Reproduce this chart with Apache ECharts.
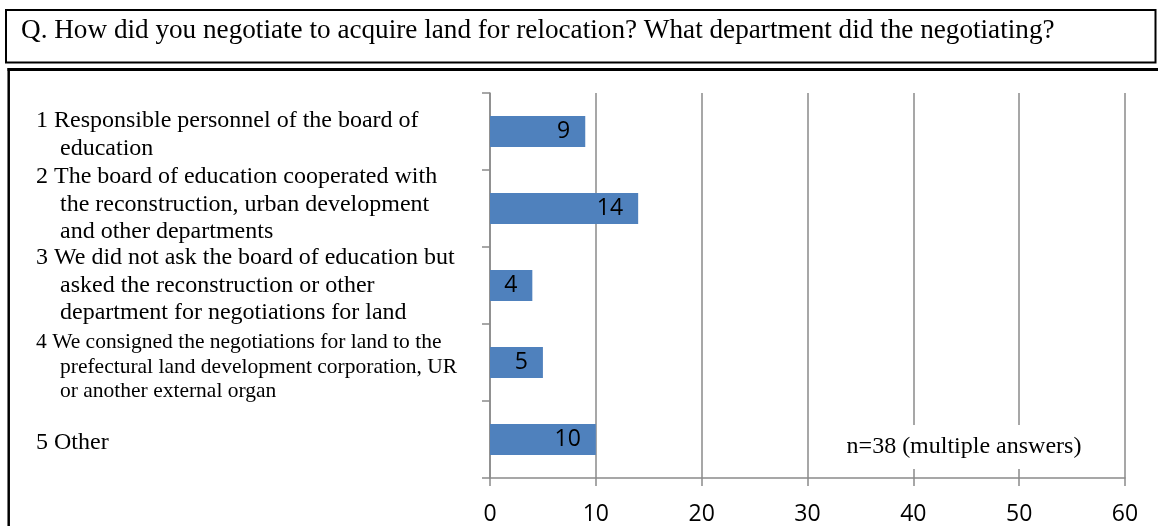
<!DOCTYPE html>
<html>
<head>
<meta charset="utf-8">
<script src="https://cdn.jsdelivr.net/npm/echarts@6/dist/echarts.min.js"></script>
<style>
html,body{margin:0;padding:0;background:#fff;}
#chart{width:1158px;height:526px;}
</style>
</head>
<body>
<div id="chart"></div>
<script>
const titleText = 'Q. How did you negotiate to acquire land for relocation? What department did the negotiating?';
const categoryLines = [
  ['1 Responsible personnel of the board of', 'education'],
  ['2 The board of education cooperated with', 'the reconstruction, urban development', 'and other departments'],
  ['3 We did not ask the board of education but', 'asked the reconstruction or other', 'department for negotiations for land'],
  ['4 We consigned the negotiations for land to the', 'prefectural land development corporation, UR', 'or another external organ'],
  ['5 Other']
];
const categories = categoryLines.map(l => l.join('\n'));
const values = [9, 14, 4, 5, 10];
const xMin = 0, xMax = 60, xInterval = 10;
const noteText = 'n=38 (multiple answers)';

const chart = echarts.init(document.getElementById('chart'), null, {renderer: 'canvas'});
const grey = '#8a8a8a';
const serif = '"Liberation Serif", "Times New Roman", serif';
const sans = '"Open Sans", "Liberation Sans", sans-serif';

// layout-only vertical nudges (px, positive = down) for each category label block
const labelNudge = [3, -4, 0, 4.5, 3];
const rich = {};
categoryLines.forEach((lines, idx) => {
  const small = idx === 3;
  const fs = small ? 21.5 : 24;
  const lh = small ? 24.5 : 27.5;
  const d = labelNudge[idx];
  const pt = d > 0 ? 2 * d : 0, pb = d < 0 ? -2 * d : 0;
  rich['f' + idx] = {fontFamily: serif, fontSize: fs, lineHeight: lh, color: '#000', padding: [pt, 0, pb, 0]};
  rich['c' + idx] = {fontFamily: serif, fontSize: fs, lineHeight: lh, color: '#000', padding: [pt, 0, pb, 24]};
});

function fmtCategory(value, index) {
  return categoryLines[index].map((ln, i) => '{' + (i === 0 ? 'f' : 'c') + index + '|' + ln + '}').join('\n');
}

const option = {
  animation: false,
  backgroundColor: '#fff',
  grid: {left: 490, right: 33, top: 93, bottom: 48, containLabel: false},
  xAxis: {
    type: 'value', min: xMin, max: xMax, interval: xInterval,
    axisLine: {show: true, lineStyle: {color: grey, width: 1.5}},
    axisTick: {show: true, length: 8, lineStyle: {color: grey, width: 1.5}},
    splitLine: {show: true, lineStyle: {color: grey, width: 1.5}},
    axisLabel: {color: '#000', fontFamily: sans, fontSize: 23, margin: 25}
  },
  yAxis: {
    type: 'category', data: categories, inverse: true,
    axisLine: {show: true, lineStyle: {color: grey, width: 1.5}},
    axisTick: {show: true, length: 8, lineStyle: {color: grey, width: 1.5}},
    axisLabel: {
      interval: 0, align: 'left', margin: 454, color: '#000',
      fontFamily: serif,
      formatter: fmtCategory,
      rich: rich
    }
  },
  series: [{
    type: 'bar', data: values, barWidth: 31,
    itemStyle: {color: '#4F81BD'},
    label: {show: true, position: 'insideRight', distance: 15, color: '#000', fontFamily: sans, fontSize: 23}
  }],
  graphic: [
    {type: 'rect', shape: {x: 6, y: 10, width: 1149.5, height: 52.5}, style: {fill: 'none', stroke: '#000', lineWidth: 2}, z: 10},
    {type: 'text', x: 21, y: 31, style: {text: titleText, font: '27.2px ' + serif, fill: '#000', verticalAlign: 'middle'}, z: 10},
    {type: 'line', shape: {x1: 7.5, y1: 69.5, x2: 1160, y2: 69.5}, style: {stroke: '#000', lineWidth: 3}, z: 10},
    {type: 'line', shape: {x1: 8.7, y1: 68, x2: 8.7, y2: 530}, style: {stroke: '#000', lineWidth: 2.5}, z: 10},
    {type: 'text', x: 964, y: 447, z: 100,
      style: {text: noteText, font: '24px ' + serif, fill: '#000', align: 'center', verticalAlign: 'middle',
        backgroundColor: '#fff', padding: [10, 10, 10, 10]}}
  ]
};
chart.setOption(option);
</script>
</body>
</html>
